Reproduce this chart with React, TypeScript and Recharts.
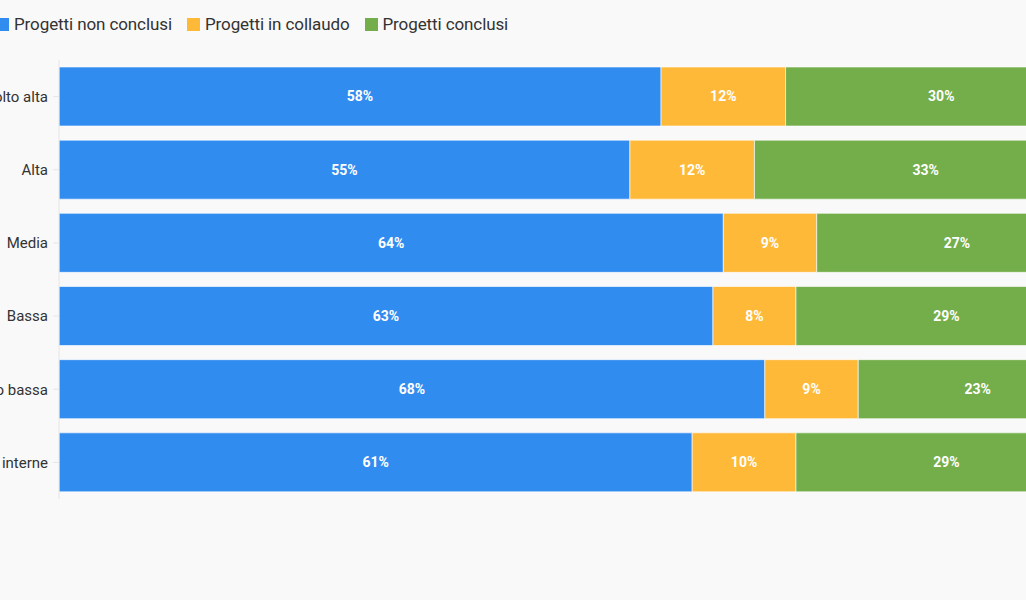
import React from 'react';
import { BarChart, Bar, XAxis, YAxis, Legend, LabelList } from 'recharts';

const categories = ['Molto alta', 'Alta', 'Media', 'Bassa', 'Molto bassa', 'Attività interne'];
const nonConclusi = [58, 55, 64, 63, 68, 61];
const inCollaudo = [12, 12, 9, 8, 9, 10];
const conclusi = [30, 33, 27, 29, 23, 29];

const series = [
  { key: 'nonConclusi', name: 'Progetti non conclusi', color: '#318cef' },
  { key: 'inCollaudo', name: 'Progetti in collaudo', color: '#ffb939' },
  { key: 'conclusi', name: 'Progetti conclusi', color: '#73ae4a' },
];

const data = categories.map((name, i) => ({
  name,
  nonConclusi: nonConclusi[i],
  inCollaudo: inCollaudo[i],
  conclusi: conclusi[i],
}));

const FONT = 'Roboto, "Noto Sans", sans-serif';

function LegendRow() {
  return (
    <div style={{ height: 60, display: 'flex', alignItems: 'flex-start', paddingLeft: 106, fontFamily: FONT }}>
      {series.map((s) => (
        <div key={s.key} style={{ display: 'flex', alignItems: 'center', marginRight: 15, marginTop: 14 }}>
          <span style={{ width: 13, height: 13, background: s.color, display: 'inline-block', marginRight: 5 }} />
          <span style={{ fontSize: 17, color: '#333', letterSpacing: -0.1 }}>{s.name}</span>
        </div>
      ))}
    </div>
  );
}

export default function App() {
  return (
    <div style={{ position: 'fixed', left: 0, top: 0, width: 1026, height: 600, overflow: 'hidden', background: '#f9f9f9' }}>
      <div style={{ position: 'absolute', left: -110, top: 0 }}>
        <BarChart
          width={1207}
          height={600}
          data={data}
          layout="vertical"
          margin={{ top: 0, right: 0, bottom: 101, left: 0 }}
        >
          <Legend verticalAlign="top" align="left" content={() => <LegendRow />} />
          <XAxis type="number" domain={[0, 100]} hide />
          <YAxis
            type="category"
            dataKey="name"
            width={169}
            axisLine={{ stroke: '#e6e6e6' }}
            tickLine={{ stroke: '#e6e6e6' }}
            tickSize={6}
            tickMargin={5}
            tick={{ fill: '#333', fontSize: 15, fontFamily: FONT }}
          />
          {series.map((s) => (
            <Bar
              key={s.key}
              dataKey={s.key}
              name={s.name}
              stackId="a"
              fill={s.color}
              stroke="#ffffff"
              strokeOpacity={0.6}
              strokeWidth={1}
              barSize={59}
              isAnimationActive={false}
            >
              <LabelList
                dataKey={s.key}
                position="center"
                formatter={(v: number) => `${v}%`}
                fill="#ffffff"
                fontSize={14}
                fontWeight="bold"
                fontFamily={FONT}
              />
            </Bar>
          ))}
        </BarChart>
      </div>
    </div>
  );
}
